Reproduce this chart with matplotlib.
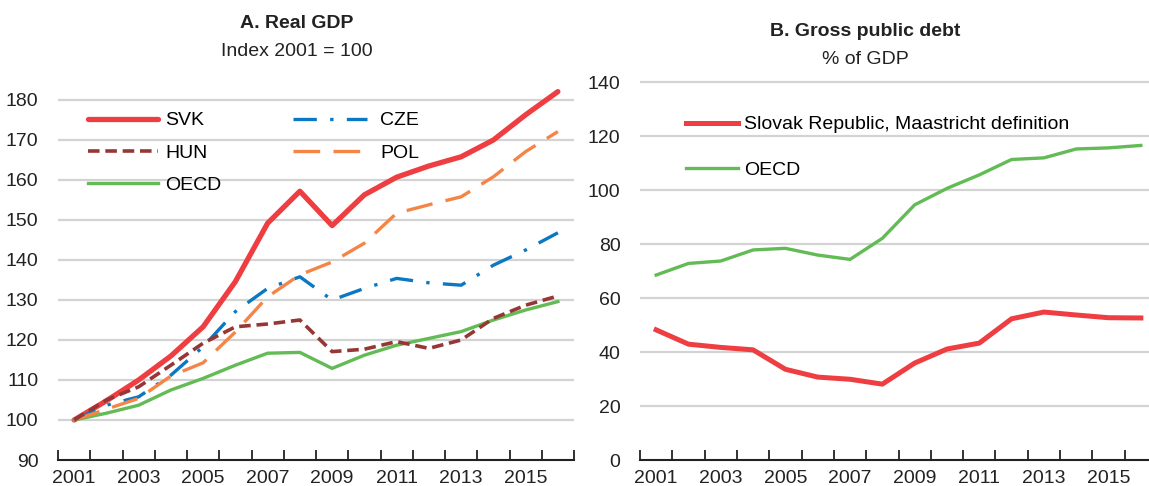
import matplotlib
matplotlib.use('Agg')
import matplotlib.pyplot as plt

plt.rcParams['font.family'] = ['Liberation Sans Narrow', 'Liberation Sans', 'DejaVu Sans']

years = list(range(2001, 2017))

# A. Real GDP, index 2001 = 100
svk_gdp = [100, 104.8, 110.0, 116.0, 123.3, 134.6, 149.2, 157.2, 148.6, 156.3,
           160.7, 163.5, 165.8, 170.0, 176.3, 182.1]
cze_gdp = [100, 103.7, 105.8, 111.2, 118.3, 127.1, 132.9, 135.8, 130.0, 132.9,
           135.4, 134.3, 133.7, 138.7, 142.5, 146.8]
hun_gdp = [100, 105.0, 108.3, 113.7, 119.2, 123.3, 124.0, 125.0, 117.1, 117.7,
           119.6, 117.9, 120.0, 125.4, 128.7, 131.0]
pol_gdp = [100, 102.7, 105.4, 111.0, 114.3, 122.0, 130.8, 136.3, 139.5, 144.2,
           151.7, 153.8, 155.8, 160.8, 167.1, 172.1]
oecd_gdp = [100, 101.7, 103.7, 107.5, 110.4, 113.7, 116.7, 116.9, 112.9, 116.2,
            118.7, 120.4, 122.1, 125.0, 127.5, 129.6]

# B. Gross public debt, % of GDP
svk_debt = [48.2, 42.9, 41.7, 40.8, 33.6, 30.7, 29.9, 28.1, 35.9, 41.1,
            43.3, 52.3, 54.8, 53.7, 52.7, 52.6]
oecd_debt = [68.5, 72.8, 73.7, 77.8, 78.4, 75.9, 74.3, 82.1, 94.5, 100.6,
             105.6, 111.3, 111.9, 115.2, 115.6, 116.5]

gdp_ticks = [90, 100, 110, 120, 130, 140, 150, 160, 170, 180]
debt_ticks = [0, 20, 40, 60, 80, 100, 120, 140]
year_labels = ['2001', '2003', '2005', '2007', '2009', '2011', '2013', '2015']

red = '#EE3E42'
blue = '#0A78C2'
darkred = '#953735'
orange = '#F58546'
green = '#62BB55'
grid = '#D3D3D3'
fs = 14

W, H = 1149, 486
fig = plt.figure(figsize=(W / 100, H / 100), dpi=100)


def style(ax, ticks, ylo, yhi):
    ax.set_xlim(2000.5, 2016.5)
    ax.set_ylim(ylo, yhi)
    ax.set_yticks(ticks)
    ax.set_xticks([y - 0.5 for y in years] + [2016.5])
    ax.set_xticks([int(t) for t in year_labels], minor=True)
    ax.set_xticklabels([], minor=False)
    ax.set_xticklabels(year_labels, minor=True)
    ax.tick_params(axis='x', which='major', direction='in', length=7, width=1.3, color='#222222')
    ax.tick_params(axis='x', which='minor', length=0, pad=7, labelsize=fs, labelcolor='#222222')
    ax.tick_params(axis='y', length=0, pad=14, labelsize=fs, labelcolor='#222222')
    for s in ['top', 'right', 'left']:
        ax.spines[s].set_visible(False)
    ax.spines['bottom'].set_linewidth(1.5)
    ax.spines['bottom'].set_color('#222222')
    ax.grid(axis='y', color=grid, linewidth=1.6)
    ax.set_axisbelow(True)


# panel A
ax1 = fig.add_axes([58 / W, 26 / H, 516 / W, 380 / H])
style(ax1, gdp_ticks, 90, 185)
ax1.yaxis.get_gridlines()[0].set_visible(False)
l_svk, = ax1.plot(years, svk_gdp, color=red, lw=3.8, label='SVK', solid_capstyle='round')
l_oecd, = ax1.plot(years, oecd_gdp, color=green, lw=2.4, label='OECD')
l_cze, = ax1.plot(years, cze_gdp, color=blue, lw=2.4, dashes=(7, 4, 1, 4), label='CZE')
l_pol, = ax1.plot(years, pol_gdp, color=orange, lw=2.4, dashes=(8, 4), label='POL')
l_hun, = ax1.plot(years, hun_gdp, color=darkred, lw=2.6, dashes=(3.2, 1.6), label='HUN')

leg1 = ax1.legend(handles=[l_svk, l_hun, l_oecd], loc='upper left',
                  bbox_to_anchor=(78 / W, 1 - 102 / H), bbox_transform=fig.transFigure,
                  frameon=False, fontsize=fs, handlelength=3.6, handletextpad=0.4,
                  labelspacing=0.75, borderpad=0)
ax1.add_artist(leg1)
ax1.legend(handles=[l_cze, l_pol], loc='upper left',
           bbox_to_anchor=(283 / W, 1 - 102 / H), bbox_transform=fig.transFigure,
           frameon=False, fontsize=fs, handlelength=3.8, handletextpad=0.7,
           labelspacing=0.75, borderpad=0)

fig.text(297 / W, 1 - 23 / H, 'A. Real GDP', ha='center', va='center',
         fontsize=fs, fontweight='bold', color='#222222')
fig.text(297 / W, 1 - 52 / H, 'Index 2001 = 100', ha='center', va='center',
         fontsize=fs, color='#222222')

# panel B
ax2 = fig.add_axes([640 / W, 26 / H, 517 / W, 391.5 / H])
style(ax2, debt_ticks, 0, 145)
ax2.yaxis.get_gridlines()[0].set_visible(False)
d_svk, = ax2.plot(years, svk_debt, color=red, lw=3.6,
                  label='Slovak Republic, Maastricht definition')
d_oecd, = ax2.plot(years, oecd_debt, color=green, lw=2.4, label='OECD')
ax2.legend(handles=[d_svk, d_oecd], loc='upper left',
           bbox_to_anchor=(676 / W, 1 - 106 / H), bbox_transform=fig.transFigure,
           frameon=False, fontsize=fs, handlelength=2.7, handletextpad=0.3,
           labelspacing=1.45, borderpad=0)

fig.text(865 / W, 1 - 31 / H, 'B. Gross public debt', ha='center', va='center',
         fontsize=fs, fontweight='bold', color='#222222')
fig.text(865 / W, 1 - 59 / H, '% of GDP', ha='center', va='center',
         fontsize=fs, color='#222222')

fig.savefig('out.png', dpi=100)
